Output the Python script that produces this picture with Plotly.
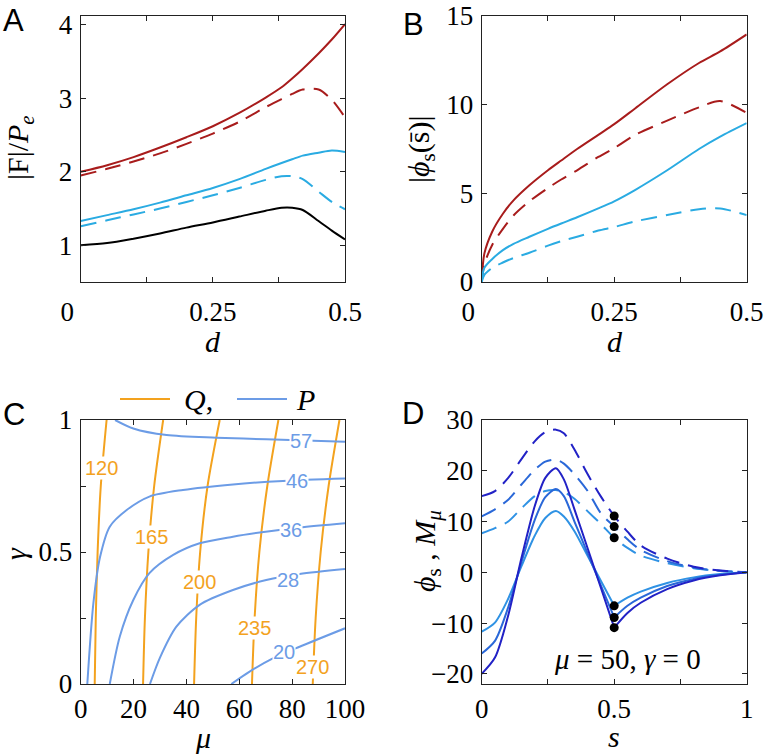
import plotly.graph_objects as go

# ---------------- data ----------------
# panel A : |F|/Pe versus d
d_a = [0, 0.05, 0.1, 0.15, 0.2, 0.25, 0.3, 0.35, 0.38, 0.4, 0.42, 0.45, 0.475, 0.5]
a_red = [2.0, 2.09, 2.2, 2.33, 2.47, 2.62, 2.8, 3.01, 3.15, 3.27, 3.4, 3.61, 3.8, 4.01]
a_red_dash = [1.95, 2.04, 2.14, 2.25, 2.38, 2.52, 2.68, 2.88, 2.99, 3.06, 3.12, 3.12, 2.98, 2.74]
a_cyan = [1.33, 1.41, 1.49, 1.58, 1.68, 1.78, 1.9, 2.04, 2.12, 2.17, 2.22, 2.26, 2.29, 2.27]
a_cyan_dash = [1.26, 1.34, 1.42, 1.5, 1.59, 1.68, 1.78, 1.89, 1.94, 1.94, 1.9, 1.73, 1.59, 1.49]
a_black = [1.0, 1.03, 1.09, 1.16, 1.24, 1.31, 1.39, 1.47, 1.51, 1.51, 1.48, 1.33, 1.2, 1.08]

# panel B : |phi_s(s_bar)| versus d
d_b = [0, 0.005, 0.02, 0.04, 0.06, 0.09, 0.125, 0.15, 0.18, 0.22, 0.25, 0.29, 0.35, 0.41, 0.45, 0.5]
b_red = [0, 1.6, 2.85, 3.85, 4.6, 5.45, 6.3, 6.85, 7.5, 8.3, 8.9, 9.8, 11.15, 12.35, 13.0, 13.96]
b_red_dash = [0, 1.0, 2.1, 3.0, 3.75, 4.55, 5.3, 5.78, 6.3, 7.05, 7.55, 8.3, 9.1, 9.85, 10.2, 9.53]
b_cyan = [0, 0.8, 1.3, 1.8, 2.15, 2.55, 3.0, 3.3, 3.65, 4.15, 4.55, 5.2, 6.3, 7.5, 8.2, 8.96]
b_cyan_dash = [0, 0.4, 0.8, 1.1, 1.35, 1.65, 2.05, 2.3, 2.55, 2.9, 3.1, 3.42, 3.78, 4.1, 4.15, 3.77]

# panel C : contour lines of Q (orange) and P (blue) in the (mu, gamma) plane
q_gamma = [0, 0.25, 0.5, 0.75, 1.0]
q_levels = ["120", "165", "200", "235", "270"]
q_mu = [
    [5.3, 5.7, 6.4, 7.6, 9.8],
    [23.6, 24.3, 25.6, 27.8, 31.2],
    [42.9, 43.7, 45.2, 48.0, 52.6],
    [64.8, 65.8, 67.6, 70.6, 74.8],
    [87.8, 88.9, 90.8, 93.8, 97.9],
]
q_label_mu = [7.9, 26.8, 45.0, 65.8, 87.8]
q_label_gamma = [0.817, 0.558, 0.388, 0.211, 0.066]

p_levels = ["57", "46", "36", "28", "20"]
p_mu = [
    [13, 19.9, 32.5, 51.3, 70.2, 100],
    [2.5, 4.8, 7.3, 11, 17.4, 26, 38.7, 57.6, 76.5, 100],
    [11, 14.8, 19.9, 26, 35, 45, 57.6, 70, 82.8, 100],
    [26.2, 30, 36.2, 45, 57.6, 70.2, 82.8, 100],
    [57, 63.9, 72.7, 82.8, 100],
]
p_gamma = [
    [1.0, 0.968, 0.943, 0.933, 0.927, 0.918],
    [0, 0.306, 0.48, 0.596, 0.659, 0.71, 0.735, 0.756, 0.769, 0.778],
    [0, 0.18, 0.318, 0.42, 0.489, 0.533, 0.558, 0.577, 0.593, 0.609],
    [0, 0.10, 0.217, 0.30, 0.356, 0.394, 0.417, 0.436],
    [0, 0.047, 0.097, 0.141, 0.211],
]
p_label_mu = [83.4, 82.0, 79.6, 78.4, 77.0]
p_label_gamma = [0.92, 0.769, 0.583, 0.394, 0.122]

# panel D : phi_s (solid) and M_mu (dashed) along s, mu = 50, gamma = 0
s_d = [0, 0.05, 0.1, 0.15, 0.2, 0.24, 0.28, 0.31, 0.35, 0.4, 0.45, 0.5,
       0.55, 0.6, 0.7, 0.8, 0.9, 1.0]
phi_dark = [-20.0, -16.8, -8.5, 2.8, 13.0, 18.6, 20.5, 18.3, 12.4, 4.7, -3.1, -10.9,
            -8.0, -6.0, -3.3, -1.6, -0.6, 0]
phi_mid = [-16.0, -13.5, -6.9, 2.0, 10.3, 14.8, 16.4, 15.0, 10.0, 3.7, -2.6, -8.9,
           -6.6, -5.0, -2.7, -1.3, -0.5, 0]
phi_light = [-11.7, -9.9, -5.2, 1.2, 7.2, 10.7, 12.1, 11.0, 8.1, 3.2, -1.7, -6.6,
             -5.0, -3.8, -2.1, -1.0, -0.35, 0]
m_dark = [15.0, 16.0, 18.6, 22.3, 25.8, 27.6, 28.1, 27.4, 24.2, 19.3, 14.9, 11.1,
          8.0, 5.3, 2.7, 1.1, 0.35, 0]
m_mid = [11.0, 12.4, 14.3, 17.3, 20.2, 21.8, 22.2, 21.4, 19.3, 16.0, 11.6, 9.0,
         6.5, 4.4, 2.2, 0.95, 0.3, 0]
m_light = [7.7, 8.7, 10.0, 12.6, 15.0, 16.0, 16.2, 15.8, 14.5, 12.0, 9.5, 6.8,
           4.8, 3.3, 1.8, 0.8, 0.25, 0]
s_mark = [0.5, 0.5, 0.5, 0.5, 0.5, 0.5]
v_mark = [11.1, 9.0, 6.8, -6.6, -8.9, -10.9]

# ---------------- styles ----------------
RED = "#a81c1c"
CYAN = "#2aabe2"
ORANGE = "#f3a21e"
PBLUE = "#6c9ce6"
D_COLS = ["#2222c6", "#2a68d8", "#2f92e4"]
DASH = "16px,9px"
SERIF = "Liberation Serif, Times New Roman, serif"
SANS = "Liberation Sans, Arial, sans-serif"

fig = go.Figure()


def line(x, y, color, xa, ya, dash="solid", width=2, shape="spline"):
    fig.add_trace(go.Scatter(x=x, y=y, mode="lines", xaxis=xa, yaxis=ya,
                             line=dict(color=color, width=width, dash=dash, shape=shape,
                                       smoothing=0.8),
                             showlegend=False, hoverinfo="skip"))


# panel A
line(d_a, a_red, RED, "x", "y")
line(d_a, a_red_dash, RED, "x", "y", DASH)
line(d_a, a_cyan, CYAN, "x", "y")
line(d_a, a_cyan_dash, CYAN, "x", "y", DASH)
line(d_a, a_black, "black", "x", "y")

# panel B
line(d_b, b_red, RED, "x2", "y2")
line(d_b, b_red_dash, RED, "x2", "y2", DASH)
line(d_b, b_cyan, CYAN, "x2", "y2")
line(d_b, b_cyan_dash, CYAN, "x2", "y2", DASH)

# panel C
for mus in q_mu:
    line(mus, q_gamma, ORANGE, "x3", "y3")
for mus, gs in zip(p_mu, p_gamma):
    line(mus, gs, PBLUE, "x3", "y3")

# panel D
k = s_d.index(0.5)
for m, col in zip([m_light, m_mid, m_dark], D_COLS[::-1]):
    line(s_d, m, col, "x4", "y4", DASH)
for phi, col in zip([phi_light, phi_mid, phi_dark], D_COLS[::-1]):
    line(s_d[:k + 1], phi[:k + 1], col, "x4", "y4")
    line(s_d[k:], phi[k:], col, "x4", "y4")
fig.add_trace(go.Scatter(x=s_mark, y=v_mark, mode="markers", xaxis="x4", yaxis="y4",
                         marker=dict(color="black", size=9), showlegend=False,
                         hoverinfo="skip"))


# ---------------- axes ----------------
def axis(domain, rng, vals, text, anchor, standoff):
    return dict(domain=domain, range=rng, tickvals=vals, ticktext=text, anchor=anchor,
                showline=True, linecolor="#222", linewidth=1.2, mirror="ticks",
                ticks="inside", ticklen=5, tickcolor="#222", showgrid=False,
                zeroline=False, fixedrange=True, automargin=False,
                ticklabelstandoff=standoff,
                tickfont=dict(family=SERIF, size=27, color="black"))


W, H = 773, 755
xl = [80.7 / W, 345 / W]
xr = [481.7 / W, 746.7 / W]
yt = [1 - 282 / H, 1 - 16 / H]
yb = [1 - 684 / H, 1 - 420 / H]
ZERO = "0\u2003"

layout = dict(
    template="none",
    width=W, height=H, margin=dict(l=0, r=0, t=0, b=0, autoexpand=False),
    paper_bgcolor="white", plot_bgcolor="white", showlegend=False,
    xaxis=axis(xl, [0, 0.5], [0, 0.125, 0.25, 0.375, 0.5],
               [ZERO, "", "0.25", "", "0.5"], "y", 5),
    yaxis=axis(yt, [0.5, 4.12], [1, 2, 3, 4], ["1", "2", "3", "4"], "x", 2),
    xaxis2=axis(xr, [0, 0.5], [0, 0.125, 0.25, 0.375, 0.5],
                [ZERO, "", "0.25", "", "0.5"], "y2", 5),
    yaxis2=axis(yt, [0, 15], [0, 5, 10, 15], ["0", "5", "10", "15"], "x2", 2),
    xaxis3=axis(xl, [0, 100], [0, 20, 40, 60, 80, 100],
                ["0", "20", "40", "60", "80", "100"], "y3", 0),
    yaxis3=axis(yb, [0, 1], [0, 0.25, 0.5, 0.75, 1], ["0", "", "0.5", "", "1"], "x3", 2),
    xaxis4=axis(xr, [0, 1], [0, 0.25, 0.5, 0.75, 1], ["0", "", "0.5", "", "1"], "y4", 0),
    yaxis4=axis(yb, [-22, 30], [-20, -10, 0, 10, 20, 30], None, "x4", 2),
)
fig.update_layout(layout)

ann = []


def txt(x, y, text, size=30, family=SERIF, angle=0, xref="paper", yref="paper",
        color="black", bg=None):
    a = dict(x=x, y=y, text=text, xref=xref, yref=yref, showarrow=False,
             textangle=angle, xanchor="center", yanchor="middle",
             font=dict(family=family, size=size, color=color))
    if bg:
        a.update(bgcolor=bg, borderpad=0)
    ann.append(a)


def px(x, y):
    return x / W, 1 - y / H


# panel letters
for letter, (x, y) in zip("ABCD", [(14, 21), (413, 25), (14, 414), (413, 413)]):
    txt(*px(x, y), letter, size=31, family=SANS)

# axis titles
txt(*px(213, 342), "<i>d</i>")
txt(*px(615, 342), "<i>d</i>")
txt(*px(203, 737), "<i>μ</i>")
txt(*px(614, 736), "<i>s</i>")
txt(*px(20, 148), "|F|/<i>P<sub>e</sub></i>", angle=-90)
txt(*px(421, 150), "|<i>ϕ</i><sub>s</sub>(s\u0304)|", angle=-90)
txt(*px(15, 553), "<i>γ</i>", angle=-90)
txt(*px(427, 551), "<i>ϕ</i><sub>s</sub> , <i>M<sub>μ</sub></i>", angle=-90)

# contour labels in panel C
for lab, m, g in zip(q_levels, q_label_mu, q_label_gamma):
    txt(m, g, lab, size=20, family=SANS, xref="x3", yref="y3", color=ORANGE, bg="white")
for lab, m, g in zip(p_levels, p_label_mu, p_label_gamma):
    txt(m, g, lab, size=20, family=SANS, xref="x3", yref="y3", color=PBLUE, bg="white")

# panel D note
txt(0.552, -17.0, "<i>μ</i> = 50, <i>γ</i> = 0", size=29, xref="x4", yref="y4")

# legend for panel C
txt(*px(198, 399), "<i>Q</i>,", size=30)
txt(*px(305, 399), "<i>P</i>", size=30)
fig.update_layout(annotations=ann)

shapes = []
for (x0, x1), col in [((120, 170), ORANGE), ((237, 287), PBLUE)]:
    a0 = px(x0, 399)
    a1 = px(x1, 399)
    shapes.append(dict(type="line", xref="paper", yref="paper", x0=a0[0], x1=a1[0],
                       y0=a0[1], y1=a1[1], line=dict(color=col, width=2)))
fig.update_layout(shapes=shapes)

# the page body has a default margin; remove it so the figure sits at the corner
fig.write_html("out.html", config=dict(displayModeBar=False),
               post_script="document.body.style.margin='0px';"
                           "document.body.style.overflow='hidden';")
